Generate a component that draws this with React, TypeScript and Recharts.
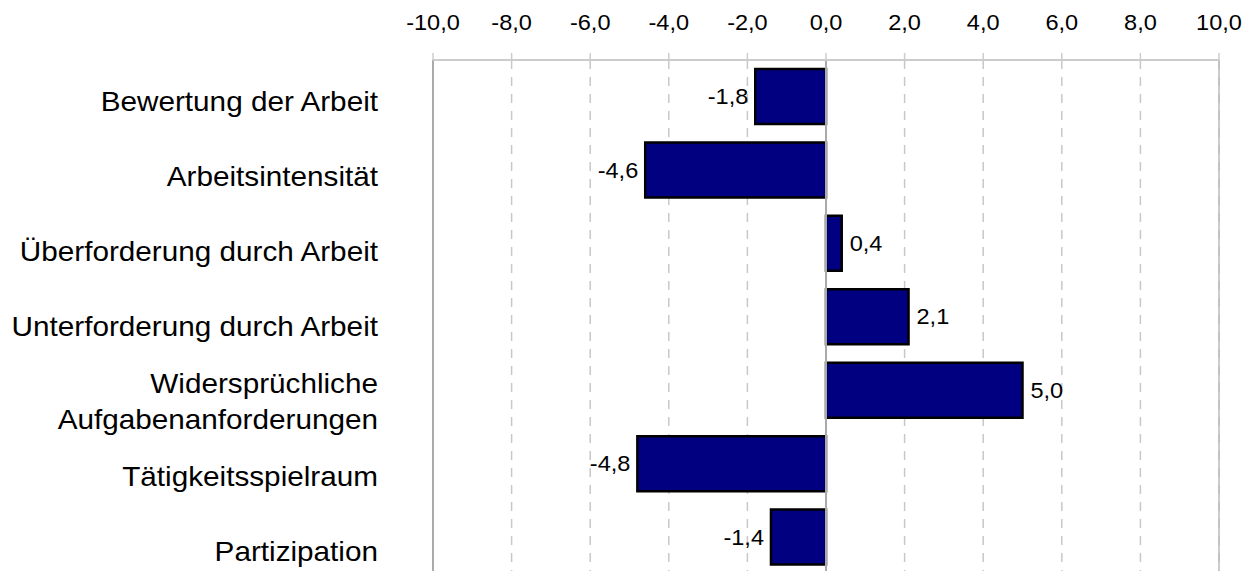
import React from "react";
import {
  BarChart,
  Bar,
  XAxis,
  YAxis,
  CartesianGrid,
  ReferenceLine,
  LabelList,
} from "recharts";

const categories: string[][] = [
  ["Bewertung der Arbeit"],
  ["Arbeitsintensität"],
  ["Überforderung durch Arbeit"],
  ["Unterforderung durch Arbeit"],
  ["Widersprüchliche", "Aufgabenanforderungen"],
  ["Tätigkeitsspielraum"],
  ["Partizipation"],
];
const values: number[] = [-1.8, -4.6, 0.4, 2.1, 5.0, -4.8, -1.4];
const xTicks: number[] = [-10, -8, -6, -4, -2, 0, 2, 4, 6, 8, 10];

const data = categories.map((lines, i) => ({
  name: lines.join(" "),
  lines,
  value: values[i],
}));

const FONT = '"Liberation Sans", Arial, Helvetica, sans-serif';
const SX = 1.07;
const fmt = (v: number) => v.toFixed(1).replace(".", ",");

const CategoryTick = (props: any) => {
  const { x, y, index, payload } = props;
  const lines: string[] = data[index] ? data[index].lines : [String(payload.value)];
  const lh = 36;
  const shift = 5 + index * 1.6;
  const start = y + shift - ((lines.length - 1) * lh) / 2;
  return (
    <g>
      {lines.map((ln, k) => (
        <text
          key={k}
          transform={`translate(${x},${start + k * lh}) scale(1.1,1)`}
          x={0}
          y={0}
          dy="0.35em"
          textAnchor="end"
          fontFamily={FONT}
          fontSize={27}
          fill="#000"
        >
          {ln}
        </text>
      ))}
    </g>
  );
};

const ValueTick = (props: any) => {
  const { x, y, payload } = props;
  return (
    <text
      transform={`translate(${x},${y}) scale(${SX},1)`}
      x={0}
      y={0}
      textAnchor="middle"
      fontFamily={FONT}
      fontSize={22}
      fill="#000"
    >
      {fmt(payload.value)}
    </text>
  );
};

const BarValueLabel = (props: any) => {
  const { x, y, width, height, value } = props;
  const left = Math.min(x, x + width);
  const right = Math.max(x, x + width);
  const cy = y + height / 2;
  const neg = value < 0;
  const tx = neg ? left - 7 : right + 8;
  return (
    <text
      transform={`translate(${tx},${cy}) scale(${SX},1)`}
      x={0}
      y={0}
      dy="0.35em"
      textAnchor={neg ? "end" : "start"}
      fontFamily={FONT}
      fontSize={22}
      fill="#000"
    >
      {fmt(value)}
    </text>
  );
};

export default function App() {
  return (
    <div
      style={{
        position: "fixed",
        top: 0,
        left: 0,
        width: 1247,
        height: 571,
        overflow: "hidden",
        background: "#fff",
      }}
    >
      <BarChart
        width={1247}
        height={580}
        data={data}
        layout="vertical"
        margin={{ top: 20, right: 28, bottom: 6, left: 0 }}
        barSize={55}
      >
        <CartesianGrid
          horizontal={false}
          vertical={true}
          stroke="#c8c8c8"
          strokeWidth={1.5}
          strokeDasharray="9 8"
        />
        <XAxis
          type="number"
          orientation="top"
          domain={[-10, 10]}
          ticks={xTicks}
          interval={0}
          height={40}
          axisLine={{ stroke: "#cccccc", strokeWidth: 2 }}
          tickLine={{ stroke: "#cccccc", strokeWidth: 1.5 }}
          tickSize={7}
          tickMargin={23}
          tick={<ValueTick />}
          allowDataOverflow
        />
        <YAxis
          type="category"
          dataKey="name"
          width={433}
          axisLine={false}
          tickLine={false}
          tickSize={0}
          tickMargin={55}
          interval={0}
          tick={<CategoryTick />}
        />
        <ReferenceLine x={-10} stroke="#aaaaaa" strokeWidth={2} />
        <ReferenceLine x={10} stroke="#bbbbbb" strokeWidth={1.5} />
        <ReferenceLine x={0} stroke="#aaaaaa" strokeWidth={2} />
        <Bar
          dataKey="value"
          fill="#000080"
          stroke="#000000"
          strokeWidth={2.5}
          isAnimationActive={false}
        >
          <LabelList dataKey="value" content={<BarValueLabel />} />
        </Bar>
      </BarChart>
    </div>
  );
}
